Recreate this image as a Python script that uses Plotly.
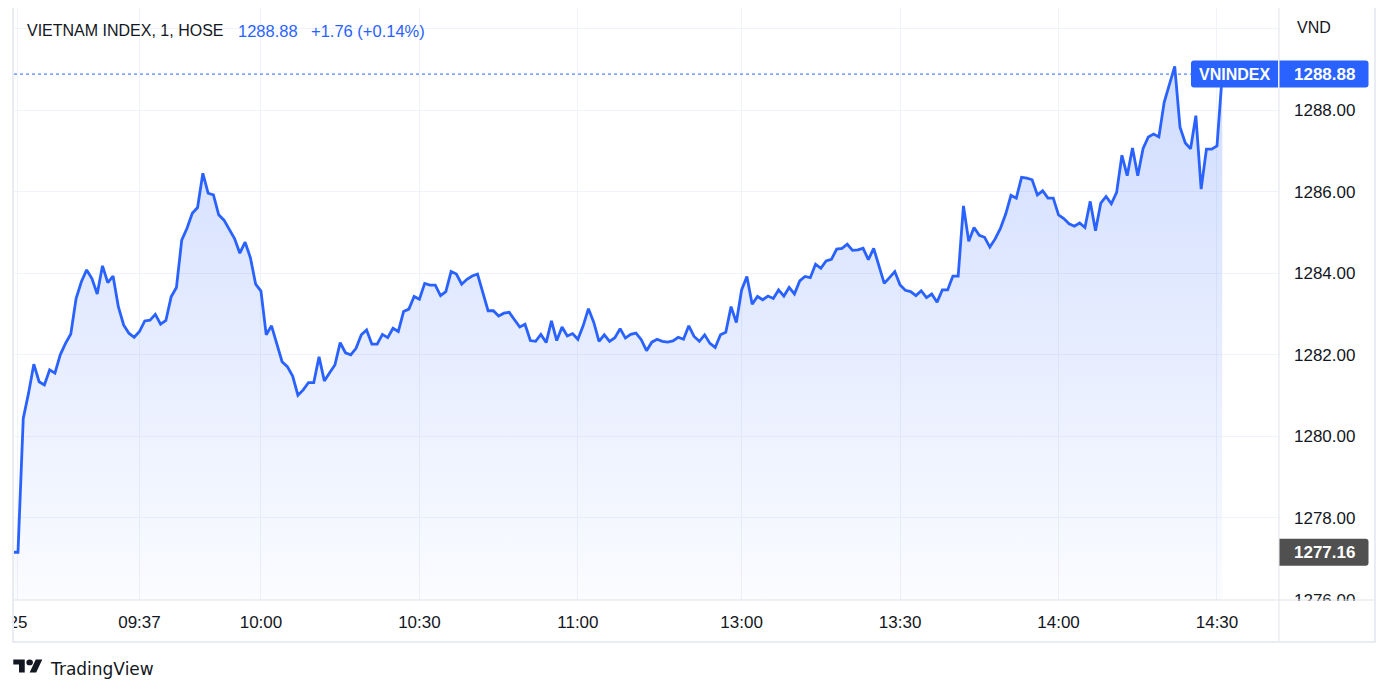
import plotly.graph_objects as go

# ---------------- data ----------------
def minute_labels(start, end):
    h0, m0 = map(int, start.split(":"))
    h1, m1 = map(int, end.split(":"))
    out, t = [], h0 * 60 + m0
    while t <= h1 * 60 + m1:
        out.append(f"{t // 60:02d}:{t % 60:02d}")
        t += 1
    return out

# one-minute bars: morning session, afternoon session, closing auction
times = minute_labels("09:13", "11:30") + minute_labels("13:00", "14:30") + ["14:45"]

morning = [
    1277.16, 1277.16, 1280.44, 1281.06, 1281.77, 1281.34, 1281.26, 1281.63, 1281.55, 1282.00,
    1282.28, 1282.51, 1283.38, 1283.79, 1284.08, 1283.87, 1283.49, 1284.18, 1283.77, 1283.93,
    1283.18, 1282.73, 1282.53, 1282.43, 1282.57, 1282.83, 1282.85, 1282.99, 1282.75, 1282.84,
    1283.42, 1283.65, 1284.81, 1285.10, 1285.47, 1285.61, 1286.45, 1285.96, 1285.92, 1285.43,
    1285.30, 1285.06, 1284.85, 1284.49, 1284.76, 1284.38, 1283.73, 1283.56, 1282.49, 1282.71,
    1282.24, 1281.83, 1281.71, 1281.48, 1281.01, 1281.14, 1281.32, 1281.32, 1281.95, 1281.36,
    1281.56, 1281.75, 1282.30, 1282.05, 1282.00, 1282.16, 1282.49, 1282.61, 1282.26, 1282.26,
    1282.50, 1282.42, 1282.65, 1282.57, 1283.06, 1283.12, 1283.43, 1283.36, 1283.75, 1283.71,
    1283.71, 1283.45, 1283.55, 1284.04, 1283.98, 1283.73, 1283.85, 1283.93, 1283.98, 1283.51,
    1283.08, 1283.08, 1282.95, 1283.02, 1283.04, 1282.86, 1282.68, 1282.75, 1282.35, 1282.33,
    1282.50, 1282.30, 1282.83, 1282.35, 1282.68, 1282.46, 1282.52, 1282.38, 1282.71, 1283.13,
    1282.80, 1282.33, 1282.49, 1282.33, 1282.42, 1282.64, 1282.41, 1282.50, 1282.53, 1282.37,
    1282.10, 1282.31, 1282.38, 1282.33, 1282.31, 1282.34, 1282.43, 1282.38, 1282.71, 1282.45,
    1282.33, 1282.49, 1282.28, 1282.18, 1282.49, 1282.55, 1283.18, 1282.79,
]
afternoon = [
    1283.59, 1283.92, 1283.24, 1283.43, 1283.35, 1283.44, 1283.38, 1283.59, 1283.44, 1283.65,
    1283.49, 1283.81, 1283.92, 1283.89, 1284.22, 1284.12, 1284.30, 1284.34, 1284.59, 1284.61,
    1284.71, 1284.56, 1284.57, 1284.61, 1284.33, 1284.61, 1284.20, 1283.75, 1283.89, 1284.04,
    1283.71, 1283.58, 1283.55, 1283.45, 1283.57, 1283.40, 1283.49, 1283.29, 1283.59, 1283.59,
    1283.93, 1283.93, 1285.65, 1284.78, 1285.12, 1284.93, 1284.88, 1284.64, 1284.84, 1285.10,
    1285.45, 1285.91, 1285.84, 1286.35, 1286.33, 1286.29, 1285.92, 1286.02, 1285.84, 1285.84,
    1285.43, 1285.34, 1285.21, 1285.15, 1285.23, 1285.12, 1285.76, 1285.04, 1285.72, 1285.88,
    1285.70, 1285.98, 1286.89, 1286.39, 1287.07, 1286.39, 1287.05, 1287.34, 1287.41, 1287.34,
    1288.19, 1288.66, 1289.07, 1287.58, 1287.19, 1287.05, 1287.86, 1286.06, 1287.04, 1287.04,
    1287.12,
]
closing_auction = [1288.88]
values = morning + afternoon + closing_auction

prev_close = 1277.16
symbol = "VNINDEX"
currency = "VND"
header_title = "VIETNAM INDEX, 1, HOSE"
header_last = "1288.88"
header_change = "+1.76 (+0.14%)"
day_label = "25"

x_tick_cats = ["09:14", "09:37", "10:00", "10:30", "11:00", "13:00", "13:30", "14:00", "14:30"]
x_tick_text = [day_label, "09:37", "10:00", "10:30", "11:00", "13:00", "13:30", "14:00", "14:30"]
y_tick_vals = [1276, 1278, 1280, 1282, 1284, 1286, 1288, 1290]
y_tick_text = ["1276.00", "1278.00", "1280.00", "1282.00", "1284.00", "1286.00", "1288.00", ""]

# ---------------- styling / geometry ----------------
OFF = 8                                  # page body margin of the html output
W, H = 1390 - OFF, 696 - OFF
L, R, T, B = 14, 1279, 8, 600            # plot area in screen pixels
FONT = "Liberation Sans, Arial, sans-serif"
BLUE = "#2962ff"
TXT = "#131722"
GRID = "#f0f3fa"
BORDER = "#e0e3eb"


def px(x):
    return (x - L) / (R - L)


def py(y):
    return (B - y) / (B - T)


fig = go.Figure()
fig.add_trace(go.Scatter(
    x=times, y=values, mode="lines",
    line=dict(color=BLUE, width=2.8),
    fill="tozeroy",
    fillgradient=dict(type="vertical",
                      colorscale=[[0, "rgba(41,98,255,0.02)"], [1, "rgba(41,98,255,0.22)"]],
                      start=1276, stop=max(values)),
    hoverinfo="skip", showlegend=False,
))

shapes = []
# covers that clip the partially hidden axis labels
shapes.append(dict(type="rect", xref="paper", yref="paper", x0=px(1280), x1=px(1374),
                   y0=py(641), y1=py(601), fillcolor="white", line_width=0, layer="above"))
shapes.append(dict(type="rect", xref="paper", yref="paper", x0=px(0), x1=px(12),
                   y0=py(641), y1=py(601), fillcolor="white", line_width=0, layer="above"))
# pane separators and outer frame
shapes.append(dict(type="line", xref="paper", yref="paper", x0=px(R), x1=px(R),
                   y0=py(7), y1=py(642), line=dict(color=BORDER, width=1), layer="above"))
shapes.append(dict(type="line", xref="paper", yref="paper", x0=px(13), x1=px(1375),
                   y0=py(B), y1=py(B), line=dict(color=BORDER, width=1), layer="above"))
shapes.append(dict(type="rect", xref="paper", yref="paper", x0=px(13), x1=px(1375),
                   y0=py(642), y1=py(7), line=dict(color="#e9ecf2", width=2), layer="above"))
# last-price dotted line
shapes.append(dict(type="line", xref="paper", yref="y", x0=0, x1=px(1191),
                   y0=values[-1], y1=values[-1], line=dict(color=BLUE, width=1, dash="dot"),
                   layer="above"))


def rounded_box(x_left, width, y_val, color, left_round=True, right_round=True, h=13.5, r=3):
    rl = r if left_round else 0
    rr = r if right_round else 0
    w = width
    path = (f"M {rl},{-h} L {w - rr},{-h} Q {w},{-h} {w},{-h + rr} "
            f"L {w},{h - rr} Q {w},{h} {w - rr},{h} L {rl},{h} Q 0,{h} 0,{h - rl} "
            f"L 0,{-h + rl} Q 0,{-h} {rl},{-h} Z")
    return dict(type="path", xref="paper", yref="y", xsizemode="pixel", ysizemode="pixel",
                xanchor=px(x_left), yanchor=y_val, path=path,
                fillcolor=color, line_width=0, layer="above")


shapes.append(rounded_box(1191, 87, values[-1], BLUE, True, False))
shapes.append(rounded_box(1279.5, 89, values[-1], BLUE, False, True))
shapes.append(rounded_box(1279.5, 89, prev_close, "#505050", False, True))

# TradingView logo (icon)
def lx(v):
    return px(13.3 + v * 0.817)


def ly(v):
    return py(659.5 + (v - 4) * 0.72)


logo_path1 = (f"M {lx(14)},{ly(22)} L {lx(7)},{ly(22)} L {lx(7)},{ly(11)} L {lx(0)},{ly(11)} "
              f"L {lx(0)},{ly(4)} L {lx(14)},{ly(4)} Z")
logo_path2 = (f"M {lx(28)},{ly(22)} L {lx(20)},{ly(22)} L {lx(27.5)},{ly(4)} L {lx(35.5)},{ly(4)} Z")
shapes.append(dict(type="path", xref="paper", yref="paper", path=logo_path1,
                   fillcolor=TXT, line_width=0))
shapes.append(dict(type="path", xref="paper", yref="paper", path=logo_path2,
                   fillcolor=TXT, line_width=0))
shapes.append(dict(type="circle", xref="paper", yref="paper", x0=lx(16), x1=lx(24),
                   y0=ly(12), y1=ly(4), fillcolor=TXT, line_width=0))

annotations = [
    dict(text=header_title, x=px(25), y=py(31), xanchor="left", yanchor="middle",
         font=dict(family=FONT, size=16, color=TXT)),
    dict(text=header_last, x=px(236), y=py(31), xanchor="left", yanchor="middle",
         font=dict(family=FONT, size=16.5, color=BLUE)),
    dict(text=header_change, x=px(309), y=py(31), xanchor="left", yanchor="middle",
         font=dict(family=FONT, size=16.5, color=BLUE)),
    dict(text=currency, x=px(1295), y=py(27.5), xanchor="left", yanchor="middle",
         font=dict(family=FONT, size=16, color=TXT)),
    dict(text=f"<b>{symbol}</b>", x=px(1234.5), y=values[-1], yref="y", xanchor="center",
         yanchor="middle", font=dict(family=FONT, size=16, color="white")),
    dict(text=f"<b>{values[-1]:.2f}</b>", x=px(1324), y=values[-1], yref="y", xanchor="center",
         yanchor="middle", font=dict(family=FONT, size=17, color="white")),
    dict(text=f"<b>{prev_close:.2f}</b>", x=px(1324), y=prev_close, yref="y", xanchor="center",
         yanchor="middle", font=dict(family=FONT, size=17, color="white")),
    dict(text="TradingView", x=px(48), y=py(668.5), xanchor="left", yanchor="middle",
         font=dict(family="DejaVu Sans, sans-serif", size=17, color=TXT)),
]
for a in annotations:
    a.setdefault("xref", "paper")
    a.setdefault("yref", "paper")
    a["showarrow"] = False

x_lo = 0.246
x_hi = 239.74

fig.update_layout(
    width=W, height=H,
    margin=dict(l=L - OFF, r=W - (R - OFF), t=T - OFF, b=H - (B - OFF), pad=0),
    paper_bgcolor="white", plot_bgcolor="white",
    showlegend=False,
    shapes=shapes,
    annotations=annotations,
    xaxis=dict(type="category", range=[x_lo, x_hi], tickmode="array",
               tickvals=x_tick_cats, ticktext=x_tick_text,
               showgrid=True, gridcolor=GRID, gridwidth=1, zeroline=False, showline=False,
               ticks="", ticklabelstandoff=10,
               tickfont=dict(family=FONT, size=17, color=TXT), fixedrange=True),
    yaxis=dict(side="right", range=[1275.99, 1290.5], tickmode="array",
               tickvals=y_tick_vals, ticktext=y_tick_text,
               showgrid=True, gridcolor=GRID, gridwidth=1, zeroline=False, showline=False,
               ticks="", ticklabelstandoff=14,
               tickfont=dict(family=FONT, size=17, color=TXT), fixedrange=True),
    hovermode=False,
)

fig.write_html("out.html")
